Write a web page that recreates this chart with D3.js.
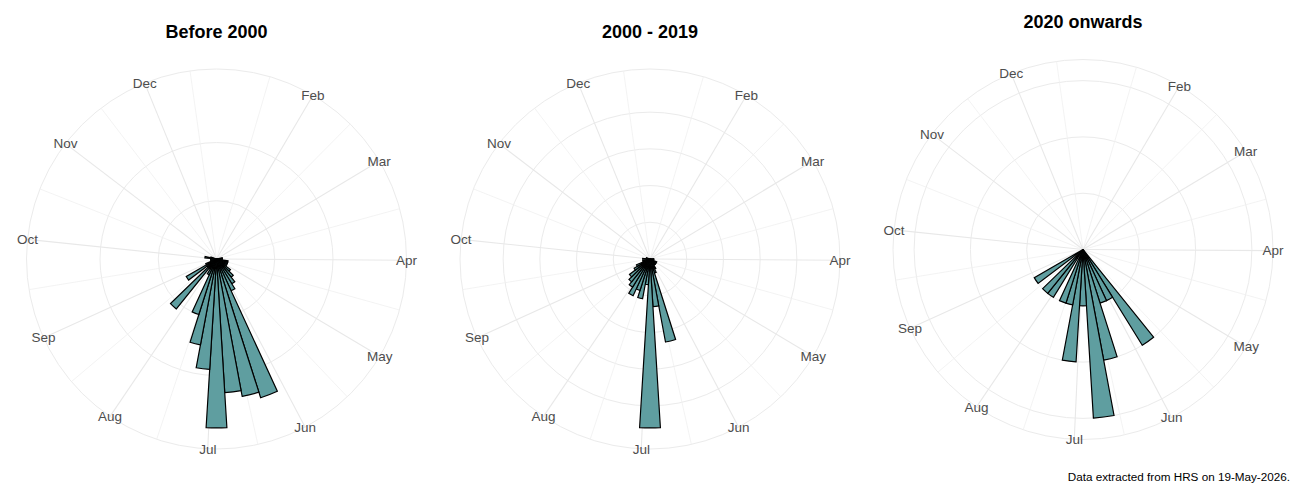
<!DOCTYPE html>
<html>
<head>
<meta charset="utf-8">
<script src="https://cdn.jsdelivr.net/npm/d3@7"></script>
<style>
  body { margin: 0; background: #fff; }
  svg { display: block; font-family: "Liberation Sans", Arial, sans-serif; }
</style>
</head>
<body>
<svg id="chart" width="1300" height="500"></svg>
<script>
// month labels and the day of year each month starts on
const months = ["Jan", "Feb", "Mar", "Apr", "May", "Jun", "Jul", "Aug", "Sep", "Oct", "Nov", "Dec"];
const monthStartDay = [1, 32, 60, 91, 121, 152, 182, 213, 244, 274, 305, 335];

// day-of-year range covered by the weekly bins (51 bins)
const dayDomain = [1.9, 356.9];
const binCount = 51;

// weekly counts, bin 0 .. bin 50
const before2000 = [
  0, 0, 0, 0, 0, 0, 0, 0, 0, 0,
  0, 1, 1, 1, 2, 2, 2, 2, 3, 4,
  5, 6, 25, 24, 23, 29, 19, 15, 10, 3,
  2, 11, 2, 6, 2, 1, 1, 1, 1, 2,
  1, 0, 0, 0, 0, 0, 0, 0, 0, 0, 0
];
const from2000to2019 = [
  0, 0, 0, 0, 0, 0, 0, 0, 0, 0,
  0, 0, 1, 1, 1, 1, 2, 1, 2, 2,
  2, 3, 4, 23, 13, 46, 7, 11, 9, 11,
  9, 8, 7, 5, 4, 2, 2, 1, 2, 1,
  1, 0, 0, 0, 0, 0, 0, 0, 0, 0, 0
];
const from2020 = [
  0, 0, 0, 0, 0, 0, 0, 0, 0, 0,
  0, 0, 0, 0, 0, 0, 0, 0, 0, 0,
  2, 1, 1, 2, 3, 1, 2, 1, 1, 0,
  1, 1, 0, 1, 0, 0, 0, 0, 0, 0,
  0, 0, 0, 0, 0, 0, 0, 0, 0, 0, 0
];

const titles = ["Before 2000", "2000 - 2019", "2020 onwards"];
const seriesList = [before2000, from2000to2019, from2020];
const radialMax = [29, 46, 3];
const radialBreaks = [[10, 20], [10, 20, 30, 40], [1, 2, 3]];

// panel layout
const panels = [
  { cx: 216.5, cy: 259, titleY: 38 },
  { cx: 650, cy: 259, titleY: 38 },
  { cx: 1083, cy: 249.5, titleY: 28 },
];
const outerR = 190;            // ggplot's 0.45 ring
const barR = outerR * 0.4 / 0.45; // 0.4 = top of the radial range

const svg = d3.select("#chart");
svg.append("rect").attr("width", 1300).attr("height", 500).attr("fill", "#fff");

const theta = d3.scaleLinear().domain(dayDomain).range([0, 2 * Math.PI]);
const binDays = (dayDomain[1] - dayDomain[0]) / binCount;

// month breaks inside the range, minor breaks half way between them
const majors = monthStartDay
  .map((d, i) => ({ day: d, label: months[i] }))
  .filter((d) => d.day >= dayDomain[0] && d.day <= dayDomain[1]);
const step = majors[1].day - majors[0].day;
const ext = [majors[0].day - step, ...majors.map((d) => d.day), majors[majors.length - 1].day + step];
const minors = d3.pairs(ext)
  .map(([a, b]) => (a + b) / 2)
  .filter((d) => d >= dayDomain[0] && d <= dayDomain[1]);

function drawPanel(p, idx) {
  const counts = seriesList[idx];
  const r = d3.scaleLinear().domain([0, radialMax[idx]]).range([0, barR]);

  const g = svg.append("g").attr("transform", `translate(${p.cx},${p.cy})`);

  // radial grid circles (breaks + outer ring)
  g.append("g")
    .selectAll("circle")
    .data([...radialBreaks[idx].map((d) => r(d)), outerR])
    .join("circle")
    .attr("r", (d) => d)
    .attr("fill", "none")
    .attr("stroke", "#ebebeb")
    .attr("stroke-width", 1);

  // minor spokes
  g.append("g")
    .selectAll("line")
    .data(minors)
    .join("line")
    .attr("x2", (d) => outerR * Math.sin(theta(d)))
    .attr("y2", (d) => -outerR * Math.cos(theta(d)))
    .attr("stroke", "#f0f0f0")
    .attr("stroke-width", 0.8);

  // major spokes (month starts)
  g.append("g")
    .selectAll("line")
    .data(majors)
    .join("line")
    .attr("x2", (d) => outerR * Math.sin(theta(d.day)))
    .attr("y2", (d) => -outerR * Math.cos(theta(d.day)))
    .attr("stroke", "#e8e8e8")
    .attr("stroke-width", 1.1);

  // weekly bars
  const bins = counts
    .map((c, i) => ({ start: dayDomain[0] + i * binDays, end: dayDomain[0] + (i + 1) * binDays, count: c }))
    .filter((d) => d.count > 0);

  const arc = d3.arc()
    .innerRadius(0)
    .outerRadius((d) => r(d.count))
    .startAngle((d) => theta(d.start))
    .endAngle((d) => theta(d.end));

  g.append("g")
    .selectAll("path")
    .data(bins)
    .join("path")
    .attr("d", arc)
    .attr("fill", "#5f9ea0")
    .attr("stroke", "#000")
    .attr("stroke-width", 1.2)
    .attr("stroke-linejoin", "miter");

  // month labels sit on the outer ring
  g.append("g")
    .selectAll("text")
    .data(majors)
    .join("text")
    .attr("x", (d) => outerR * Math.sin(theta(d.day)))
    .attr("y", (d) => -outerR * Math.cos(theta(d.day)))
    .attr("dy", "0.35em")
    .attr("text-anchor", "middle")
    .attr("font-size", 13.5)
    .attr("fill", "#4d4d4d")
    .text((d) => d.label);

  // panel title
  svg.append("text")
    .attr("x", p.cx)
    .attr("y", p.titleY)
    .attr("text-anchor", "middle")
    .attr("font-size", 18)
    .attr("font-weight", "bold")
    .attr("fill", "#000")
    .text(titles[idx]);
}

panels.forEach(drawPanel);

// caption
svg.append("text")
  .attr("x", 1290)
  .attr("y", 481)
  .attr("text-anchor", "end")
  .attr("font-size", 11.7)
  .attr("fill", "#000")
  .text("Data extracted from HRS on 19-May-2026.");
</script>
</body>
</html>
